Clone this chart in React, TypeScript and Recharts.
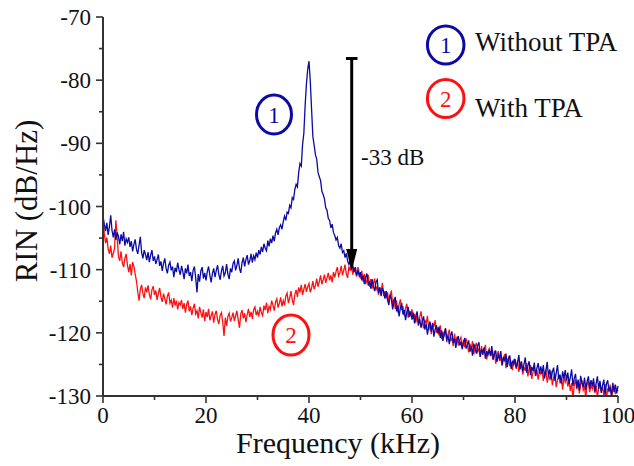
import React from "react";
import { LineChart, Line, XAxis, YAxis } from "recharts";

document.body.style.margin = "0";

// sample spacing of the spectrum (kHz)
const FREQ_STEP = 0.25;

const xTicks = [0, 10, 20, 30, 40, 50, 60, 70, 80, 90, 100];
const yTicks = [-130, -125, -120, -115, -110, -105, -100, -95, -90, -85, -80, -75, -70];

// RIN without TPA (dB/Hz), one value every 0.25 kHz, 0..100 kHz (5 kHz per row)
const withoutTpa = [
  -101.5, -102.8, -103.9, -102.6, -104.5, -103.2, -101.4, -103.8, -104.9, -103.6, -105.3, -104.1, -104.7, -106.0, -104.4, -105.5, -104.0, -106.2, -105.1, -105.7,
  -104.9, -106.4, -105.5, -107.1, -106.0, -105.2, -106.8, -107.5, -106.1, -104.8, -107.3, -108.2, -106.9, -107.6, -108.5, -107.2, -108.8, -107.7, -106.9, -108.6,
  -107.9, -109.1, -108.4, -107.6, -109.4, -108.7, -110.2, -109.0, -108.2, -109.8, -110.6, -109.3, -108.8, -110.1, -109.5, -111.2, -109.7, -110.4, -108.9, -110.0,
  -110.8, -109.4, -110.3, -111.5, -109.8, -110.6, -109.2, -111.0, -110.4, -111.8, -110.1, -109.5, -111.3, -113.6, -110.7, -111.9, -110.2, -109.6, -111.4, -110.5,
  -111.7, -110.3, -109.5, -110.9, -112.0, -110.6, -109.8, -111.2, -110.1, -109.3, -110.8, -111.6, -110.2, -109.4, -111.0, -110.5, -109.1, -110.7, -111.5, -109.8,
  -110.4, -109.0, -108.6, -110.1, -109.3, -108.2, -109.8, -110.5, -108.9, -108.1, -109.5, -108.4, -107.7, -109.2, -108.6, -107.5, -108.9, -107.8, -108.4, -107.3,
  -108.1, -106.9, -107.6, -106.4, -107.2, -105.9, -106.6, -107.0, -105.4, -106.3, -105.1, -105.8, -104.6, -105.5, -104.2, -103.6, -104.5, -103.3, -102.9, -103.6,
  -102.4, -101.5, -102.2, -100.9, -101.1, -99.8, -100.2, -98.6, -98.9, -97.3, -96.5, -96.9, -94.6, -93.2, -93.6, -90.2, -88.4, -84.0, -80.6, -78.3,
  -77.0, -80.2, -84.6, -88.9, -90.3, -91.8, -92.5, -94.6, -95.3, -95.9, -97.6, -98.1, -98.8, -100.2, -100.6, -101.9, -102.2, -103.4, -102.8, -104.1,
  -104.6, -105.3, -104.9, -106.2, -106.6, -105.9, -107.3, -107.0, -108.1, -107.4, -108.6, -109.2, -108.5, -109.9, -109.3, -110.4, -109.6, -110.9, -110.1, -111.0,
  -110.4, -111.7, -110.9, -112.3, -111.2, -110.6, -112.5, -111.8, -113.0, -111.5, -112.6, -113.4, -112.0, -111.6, -113.7, -112.8, -114.2, -112.9, -113.5, -114.6,
  -113.4, -114.8, -115.6, -113.9, -114.7, -116.3, -115.0, -114.3, -116.6, -115.7, -117.4, -116.0, -115.3, -117.1, -116.4, -118.0, -116.7, -115.9, -117.5, -116.6,
  -117.9, -116.8, -118.5, -117.3, -116.6, -118.7, -117.8, -119.2, -118.1, -117.4, -119.5, -118.6, -120.3, -118.9, -118.2, -119.8, -118.5, -120.6, -119.4, -118.8,
  -120.1, -119.0, -120.8, -119.6, -121.3, -120.2, -119.3, -121.0, -120.5, -121.8, -120.4, -119.8, -121.6, -120.9, -122.4, -121.1, -120.5, -122.0, -121.4, -122.6,
  -121.6, -120.8, -122.5, -121.9, -121.2, -123.0, -122.1, -123.6, -121.7, -122.4, -123.3, -122.0, -121.5, -123.8, -122.6, -123.2, -122.3, -124.1, -122.9, -123.5,
  -122.7, -123.6, -122.1, -124.2, -123.4, -122.8, -124.6, -123.5, -124.0, -122.9, -125.1, -123.8, -124.5, -123.3, -125.4, -124.2, -123.6, -125.7, -124.4, -125.0,
  -124.1, -125.5, -124.7, -123.5, -125.8, -124.6, -126.1, -124.9, -123.9, -126.3, -125.2, -124.5, -126.7, -125.4, -126.0, -124.7, -126.8, -125.6, -124.8, -126.4,
  -125.3, -126.5, -125.1, -127.2, -126.0, -124.6, -126.9, -125.8, -127.4, -126.2, -125.5, -127.6, -126.4, -125.1, -127.3, -126.6, -128.0, -126.1, -127.2, -125.9,
  -127.5, -126.3, -128.1, -127.0, -125.8, -128.4, -127.2, -126.5, -128.7, -127.4, -129.1, -126.8, -127.9, -128.6, -127.1, -129.0, -127.7, -126.9, -128.8, -127.5,
  -128.4, -127.2, -129.3, -128.0, -126.9, -128.9, -127.6, -129.5, -128.3, -127.4, -129.8, -128.1, -127.5, -129.2, -128.6, -130.1, -127.9, -129.4, -128.2, -129.6,
  -128.4,
];

// RIN with TPA (dB/Hz), same frequency grid
const withTpa = [
  -101.6, -104.3, -105.8, -104.9, -106.7, -107.5, -106.2, -108.1, -107.4, -106.6, -102.2, -104.8, -107.9, -108.6, -107.1, -108.9, -109.6, -108.2, -107.5, -109.3,
  -110.4, -109.1, -110.9, -108.8, -109.5, -110.7, -111.8, -113.5, -114.9, -113.1, -112.4, -113.8, -114.5, -112.8, -113.6, -112.5, -113.9, -114.7, -113.2, -112.6,
  -114.0, -113.3, -114.8, -113.7, -112.9, -114.3, -115.1, -113.8, -114.6, -115.5, -114.2, -113.6, -115.3, -114.8, -116.0, -114.5, -115.7, -114.9, -116.3, -115.2,
  -115.6, -114.8, -116.2, -115.3, -116.8, -115.5, -114.9, -116.6, -115.8, -117.2, -116.1, -115.4, -117.0, -116.5, -117.7, -115.9, -116.8, -117.6, -116.3, -118.1,
  -116.7, -117.5, -116.2, -118.0, -117.3, -116.6, -118.4, -117.1, -116.5, -117.9, -118.6, -117.2, -116.8, -118.3, -120.5, -117.6, -118.9, -117.4, -116.9, -118.2,
  -117.6, -116.8, -118.1, -117.3, -116.5, -117.9, -119.2, -117.0, -116.4, -117.7, -116.9, -118.3, -117.1, -116.2, -117.5, -116.7, -117.8, -116.3, -115.9, -117.2,
  -116.6, -117.4, -115.9, -116.8, -117.3, -115.7, -116.4, -115.2, -116.9, -115.8, -116.3, -114.9, -115.6, -116.5, -115.1, -114.6, -116.0, -115.3, -114.4, -115.8,
  -114.9, -115.6, -114.2, -113.7, -115.3, -114.5, -113.4, -114.8, -115.6, -113.9, -113.2, -114.3, -112.8, -113.6, -112.4, -114.0, -113.1, -112.3, -113.5, -112.7,
  -112.2, -113.6, -112.9, -111.8, -113.1, -112.5, -111.4, -112.7, -111.9, -110.9, -112.3, -111.6, -110.8, -112.1, -111.3, -110.5, -111.7, -110.9, -112.0, -110.4,
  -111.2, -110.3, -109.6, -111.0, -110.5, -109.4, -110.9, -110.1, -109.2, -110.7, -111.3, -109.5, -110.2, -108.9, -110.8, -109.7, -110.4, -111.1, -109.6, -110.5,
  -111.4, -110.2, -111.9, -110.7, -112.3, -111.6, -110.8, -112.7, -111.5, -113.0, -112.2, -111.4, -113.3, -112.6, -114.0, -112.8, -113.5, -112.1, -114.2, -113.4,
  -114.5, -113.6, -115.1, -114.2, -113.3, -115.7, -114.6, -116.2, -114.9, -116.8, -115.5, -114.7, -116.4, -115.8, -117.3, -116.1, -115.4, -117.6, -116.7, -117.1,
  -116.3, -117.8, -117.0, -118.4, -116.9, -118.9, -117.5, -116.6, -118.2, -119.3, -117.9, -118.6, -117.3, -119.6, -118.7, -120.2, -118.4, -119.1, -118.0, -120.0,
  -119.2, -120.4, -118.8, -121.0, -119.8, -120.6, -119.3, -121.5, -120.2, -119.5, -121.3, -120.8, -122.1, -120.1, -121.6, -120.6, -122.0, -121.2, -120.7, -122.4,
  -121.1, -122.3, -120.9, -121.8, -123.1, -121.7, -122.6, -121.3, -123.4, -122.2, -121.6, -123.0, -122.5, -123.8, -122.1, -123.5, -122.8, -121.9, -124.2, -123.0,
  -122.5, -123.7, -123.0, -124.3, -122.8, -124.9, -123.6, -122.9, -124.5, -123.8, -125.2, -124.0, -123.4, -125.6, -124.4, -123.9, -125.3, -124.7, -125.9, -124.2,
  -124.9, -125.7, -124.3, -126.2, -125.0, -124.5, -126.6, -125.4, -126.0, -124.8, -126.9, -125.6, -125.1, -127.3, -126.2, -125.5, -126.8, -125.9, -127.4, -126.1,
  -126.5, -125.7, -127.6, -126.3, -125.9, -127.9, -126.8, -127.3, -126.0, -128.3, -127.1, -126.4, -128.6, -127.5, -126.7, -128.0, -127.2, -129.0, -126.9, -127.8,
  -127.1, -128.5, -127.6, -129.2, -127.9, -130.4, -128.3, -127.4, -128.9, -127.7, -129.6, -128.2, -127.5, -129.1, -128.6, -130.3, -128.0, -127.8, -129.4, -128.3,
  -128.9, -127.8, -129.5, -128.4, -130.2, -128.7, -127.9, -129.3, -128.6, -129.9, -128.1, -130.5, -128.8, -129.4, -128.2, -130.1, -129.0, -128.5, -129.7, -128.9,
  -129.2,
];

const data = withoutTpa.map((v, i) => ({
  f: i * FREQ_STEP,
  without: v,
  with: withTpa[i],
}));

const BLUE = "#0A0AA6";
const RED = "#FF1010";
const FONT = "Liberation Serif, DejaVu Serif, serif";
const fontStyle = { fontFamily: FONT };

const YTick = ({ x, y, payload }: any) => {
  const major = payload.value % 10 === 0;
  const edge = x + 12;
  return (
    <g>
      <line x1={edge - (major ? 7 : 4)} x2={edge} y1={y} y2={y} stroke="#333" strokeWidth={1.6} />
      {major && (
        <text x={x} y={y} dy={8} textAnchor="end" fontSize={23} style={fontStyle} fill="#111">
          {payload.value}
        </text>
      )}
    </g>
  );
};

const XTick = ({ x, y, payload }: any) => {
  const major = payload.value % 20 === 0;
  const edge = y - 12;
  return (
    <g>
      <line x1={x} x2={x} y1={edge} y2={edge + (major ? 7 : 4)} stroke="#333" strokeWidth={1.6} />
      {major && (
        <text x={x} y={y} dy={15} textAnchor="middle" fontSize={23} style={fontStyle} fill="#111">
          {payload.value}
        </text>
      )}
    </g>
  );
};

export default function App() {
  return (
    <div style={{ position: "relative", width: 634, height: 466, background: "#fff", ...fontStyle }}>
      <LineChart width={634} height={466} data={data} margin={{ top: 17, right: 16, bottom: 30, left: 43 }}>
        <XAxis
          dataKey="f"
          type="number"
          domain={[0, 100]}
          ticks={xTicks}
          interval={0}
          height={40}
          tickSize={7}
          tickMargin={5}
          tickLine={false}
          tick={<XTick />}
          axisLine={{ stroke: "#333", strokeWidth: 2 }}
        />
        <YAxis
          type="number"
          domain={[-130, -70]}
          ticks={yTicks}
          interval={0}
          width={60}
          allowDataOverflow
          tickSize={7}
          tickMargin={5}
          tickLine={false}
          tick={<YTick />}
          axisLine={{ stroke: "#333", strokeWidth: 2 }}
        />
        <Line dataKey="with" stroke={RED} strokeWidth={1.3} dot={false} isAnimationActive={false} />
        <Line dataKey="without" stroke={BLUE} strokeWidth={1.3} dot={false} isAnimationActive={false} />
      </LineChart>
      <svg
        width={634}
        height={466}
        style={{ position: "absolute", left: 0, top: 0, pointerEvents: "none", ...fontStyle }}
      >
        <text x={338} y={453} textAnchor="middle" fontSize={30} fill="#111" style={fontStyle}>
          Frequency (kHz)
        </text>
        <text
          transform="translate(37,201) rotate(-90)"
          textAnchor="middle"
          fontSize={31}
          fill="#111"
          style={fontStyle}
        >
          RIN (dB/Hz)
        </text>

        {/* -33 dB arrow */}
        <line x1={351.7} x2={351.7} y1={58.5} y2={254} stroke="#000" strokeWidth={3} />
        <line x1={346} x2={357.5} y1={58.5} y2={58.5} stroke="#000" strokeWidth={3} />
        <polygon points="346.2,249 357.2,249 351.7,271" fill="#000" />
        <text x={361} y={165} fontSize={23} fill="#111" style={fontStyle}>
          -33 dB
        </text>

        {/* curve labels */}
        <ellipse cx={274} cy={114.5} rx={17.5} ry={19.5} fill="none" stroke={BLUE} strokeWidth={3} />
        <text x={274} y={122.5} textAnchor="middle" fontSize={23} fill={BLUE} style={fontStyle}>
          1
        </text>
        <ellipse cx={291} cy={335} rx={18} ry={20} fill="none" stroke={RED} strokeWidth={3} />
        <text x={291} y={343} textAnchor="middle" fontSize={23} fill={RED} style={fontStyle}>
          2
        </text>

        {/* legend */}
        <ellipse cx={445.7} cy={45} rx={18.3} ry={19} fill="none" stroke={BLUE} strokeWidth={3} />
        <text x={445.7} y={53} textAnchor="middle" fontSize={23} fill={BLUE} style={fontStyle}>
          1
        </text>
        <text x={475} y={51} fontSize={27} fill="#111" style={fontStyle}>
          Without TPA
        </text>
        <ellipse cx={445.7} cy={98.5} rx={18.3} ry={19} fill="none" stroke={RED} strokeWidth={3} />
        <text x={445.7} y={106.5} textAnchor="middle" fontSize={23} fill={RED} style={fontStyle}>
          2
        </text>
        <text x={475} y={117} fontSize={27} fill="#111" style={fontStyle}>
          With TPA
        </text>
      </svg>
    </div>
  );
}
